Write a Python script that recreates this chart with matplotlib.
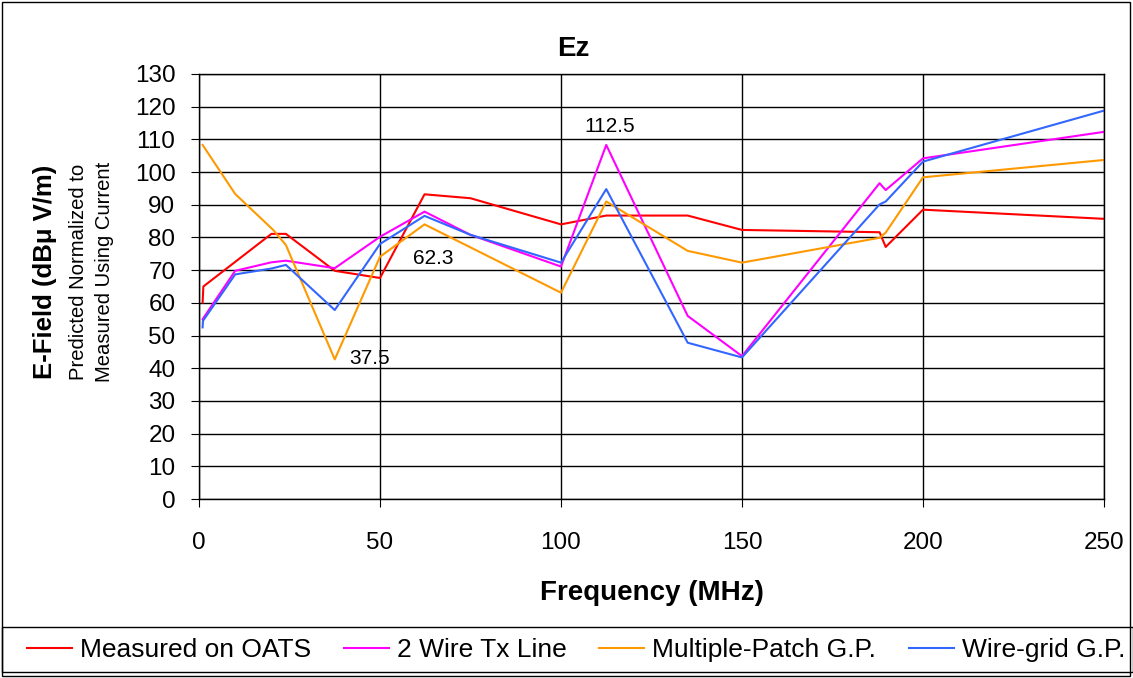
import matplotlib
matplotlib.use("Agg")
import matplotlib.pyplot as plt
from matplotlib.patches import Rectangle

plt.rcParams['font.family'] = ['Liberation Sans', 'DejaVu Sans']

# frequency (MHz) / field (dBuV/m) for each series
meas_f = [1, 1.2, 20, 24, 37.5, 50, 62.3, 75, 100, 112.5, 135, 150, 188, 189.7, 200, 250]
meas_e = [60.1, 65, 81.1, 81.1, 69.8, 67.6, 93.2, 92.0, 84.0, 86.7, 86.7, 82.3, 81.6, 77.1, 88.5, 85.7]

wire_f = [1, 10, 20, 24, 37.5, 50, 62.3, 75, 100, 112.5, 135, 150, 188, 189.7, 200, 250]
wire_e = [55.0, 69.8, 72.4, 72.9, 70.6, 80.2, 87.9, 80.8, 71.1, 108.3, 56.0, 43.7, 96.6, 94.5, 104.2, 112.3]

patch_f = [1, 10, 20.5, 24, 37.5, 50, 62.3, 100, 112.5, 135, 150, 188, 189.7, 200, 250]
patch_e = [108.3, 93.3, 82.3, 77.7, 42.7, 74.1, 84.0, 63.1, 91.0, 75.9, 72.3, 79.9, 81.5, 98.4, 103.7]

grid_f = [1, 1.1, 10, 20, 24, 37.5, 50, 62.3, 75, 100, 112.5, 135, 150, 188, 189.7, 200, 250]
grid_e = [52.5, 54.5, 68.7, 70.5, 71.6, 57.8, 78.0, 86.6, 80.8, 72.3, 94.8, 47.8, 43.3, 90.1, 91.0, 103.2, 118.8]

labels = ["Measured on OATS", "2 Wire Tx Line", "Multiple-Patch G.P.", "Wire-grid G.P."]
colors = ["#ff0000", "#ff00ff", "#ff9900", "#3366ff"]

fig = plt.figure(figsize=(11.33, 6.78), dpi=100)
ax = fig.add_axes([199/1133, 1-499/678, (1104-199)/1133, (499-74)/678])

series = [(meas_f, meas_e), (wire_f, wire_e), (patch_f, patch_e), (grid_f, grid_e)]
for (f, e), lab, c in zip(series, labels, colors):
    ax.plot(f, e, color=c, lw=1.5, label=lab)

# frequency call-outs
ax.text(41.5, 43, "37.5", fontsize=15, va='center')
ax.text(59, 73.5, "62.3", fontsize=15, va='center')
ax.text(106.5, 114, "112.5", fontsize=15, va='center')

ax.set_xlim(0, 250)
ax.set_ylim(0, 130)
ax.set_xticks(range(0, 251, 50))
ax.set_yticks(range(0, 131, 10))
ax.grid(True, color='black', lw=1)
ax.set_axisbelow(True)
for s in ax.spines.values():
    s.set_color('black')
    s.set_linewidth(1)
ax.tick_params(labelsize=17.5, length=6, color='black', direction='out')
ax.tick_params(axis='y', pad=11)
ax.tick_params(axis='x', pad=18)

fig.text(573/1133, 1-49/678, "Ez", fontsize=20, fontweight='bold', ha='center', va='center')
fig.text(652/1133, 1-593/678, "Frequency (MHz)", fontsize=20, fontweight='bold',
         ha='center', va='center')

fig.text(45/1133, 1-272/678, "E-Field (dB\u03bc V/m)", rotation=90, fontsize=18.5,
         fontweight='bold', ha='center', va='center')
fig.text(79/1133, 1-272/678, "Predicted Normalized to", rotation=90, fontsize=14.6,
         ha='center', va='center')
fig.text(104/1133, 1-272/678, "Measured Using Current", rotation=90, fontsize=14.6,
         ha='center', va='center')

# outer border and legend strip
fig.patches.append(Rectangle((2/1133, 2/678), 1128/1133, 674/678, transform=fig.transFigure,
                             fill=False, ec='black', lw=1))
fig.patches.append(Rectangle((2/1133, 6/678), 1131/1133, 45/678, transform=fig.transFigure,
                             fill=False, ec='black', lw=1))

h, l = ax.get_legend_handles_labels()
fig.legend(h, l, loc='center left', bbox_to_anchor=(27/1133, 1-650/678), ncol=4,
           frameon=False, fontsize=19, handlelength=1.7, handletextpad=0.3,
           columnspacing=1.25, borderaxespad=0, borderpad=0)

fig.savefig("out.png", dpi=100)
